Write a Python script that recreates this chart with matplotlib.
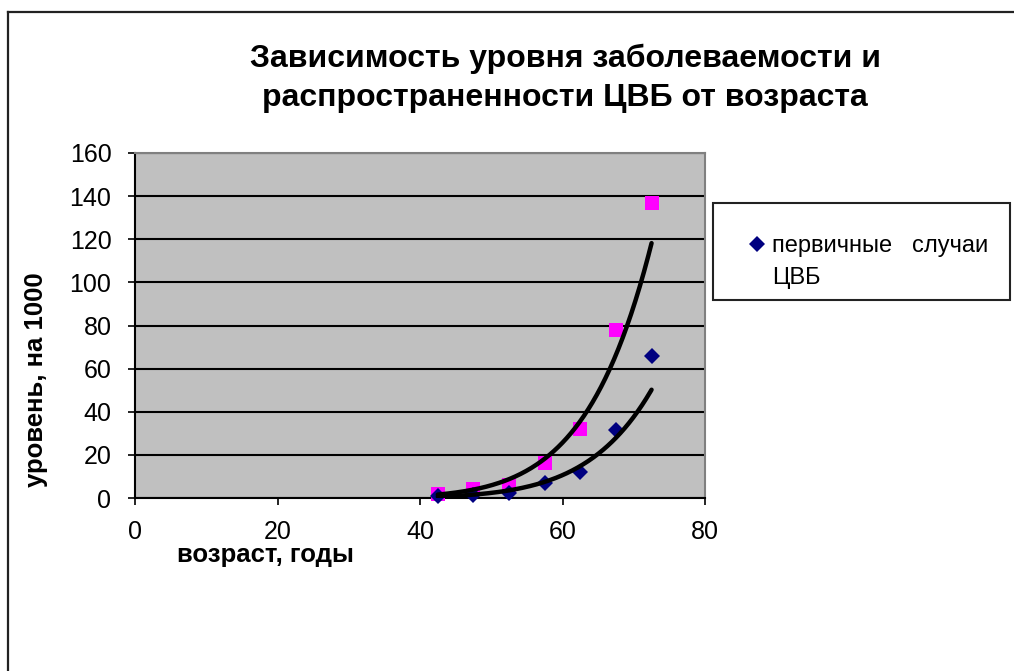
import numpy as np
import matplotlib
matplotlib.use("Agg")
import matplotlib.pyplot as plt
from matplotlib.lines import Line2D
from matplotlib.patches import Rectangle

# Возрастные группы (середина интервала), лет
age = [42.5, 47.5, 52.5, 57.5, 62.5, 67.5, 72.5]
# Первичные случаи ЦВБ, на 1000
primary = [0.9, 1.5, 2.3, 6.9, 12.0, 31.5, 65.9]
# Распространенность ЦВБ, на 1000
prevalence = [2.0, 4.3, 5.8, 16.2, 32.0, 78.0, 137.0]

x_ticks = [0, 20, 40, 60, 80]
y_ticks = [0, 20, 40, 60, 80, 100, 120, 140, 160]

title = "Зависимость уровня заболеваемости и\nраспространенности ЦВБ от возраста"
x_label = "возраст, годы"
y_label = "уровень, на 1000"
legend_label = "первичные   случаи\nЦВБ"

plt.rcParams['font.family'] = ['Liberation Sans', 'DejaVu Sans']

W, H = 1014, 671
fig = plt.figure(figsize=(W / 100, H / 100), dpi=100)
fig.patch.set_facecolor("white")


def fx(px):
    return px / W


def fy(py):
    return 1 - py / H


# outer chart frame (left and top edges visible)
fig.add_artist(Line2D([fx(8), fx(8)], [0, fy(12)], color="#222222", lw=1.6))
fig.add_artist(Line2D([fx(8), 1], [fy(12), fy(12)], color="#222222", lw=1.6))

ax = fig.add_axes([fx(135), fy(498), fx(705) - fx(135), fy(153) - fy(498)])
ax.set_facecolor("#C0C0C0")
ax.set_xlim(0, 80)
ax.set_ylim(0, 160)
ax.set_xticks(x_ticks)
ax.set_yticks(y_ticks)
ax.tick_params(axis="both", labelsize=18, direction="out", length=5, width=1.2, color="black")
ax.tick_params(axis="y", pad=12)
ax.tick_params(axis="x", pad=11)
ax.yaxis.grid(True, color="black", lw=1.5)
ax.set_axisbelow(True)
for side in ("left", "bottom"):
    ax.spines[side].set_color("black")
    ax.spines[side].set_linewidth(1.5)
for side in ("top", "right"):
    ax.spines[side].set_color("#808080")
    ax.spines[side].set_linewidth(1.5)

ax.plot(age, prevalence, linestyle="none", marker="s", markersize=10,
        color="#FF00FF", markeredgewidth=0, zorder=3, clip_on=False)
ax.plot(age, primary, linestyle="none", marker="D", markersize=8,
        color="#000080", markeredgewidth=0, zorder=3, clip_on=False)

# power-law trend lines: y = a * x^b
x_fit = np.linspace(min(age), max(age), 200)
for series in (prevalence, primary):
    b, ln_a = np.polyfit(np.log(age), np.log(series), 1)
    ax.plot(x_fit, np.exp(ln_a) * x_fit ** b, color="black", lw=3.2,
            solid_capstyle="round", zorder=4)

fig.text(fx(565), fy(78), title, ha="center", va="center", fontsize=23,
         fontweight="bold", linespacing=1.38, multialignment="center")
fig.text(fx(265), fy(555), x_label, ha="center", va="center", fontsize=18.5,
         fontweight="bold")
fig.text(fx(36), fy(380), y_label, ha="center", va="center", fontsize=18.5,
         fontweight="bold", rotation=90)

# legend box
fig.add_artist(Rectangle((fx(713), fy(300)), fx(1010) - fx(713), fy(203) - fy(300),
                         facecolor="white", edgecolor="#222222", lw=1.5))
fig.add_artist(Line2D([fx(757)], [fy(244)], marker="D", markersize=8,
                      color="#000080", markeredgewidth=0, linestyle="none"))
fig.text(fx(772), fy(262), legend_label, ha="left", va="center", fontsize=17,
         linespacing=1.6)

fig.savefig("out.png", dpi=100)
